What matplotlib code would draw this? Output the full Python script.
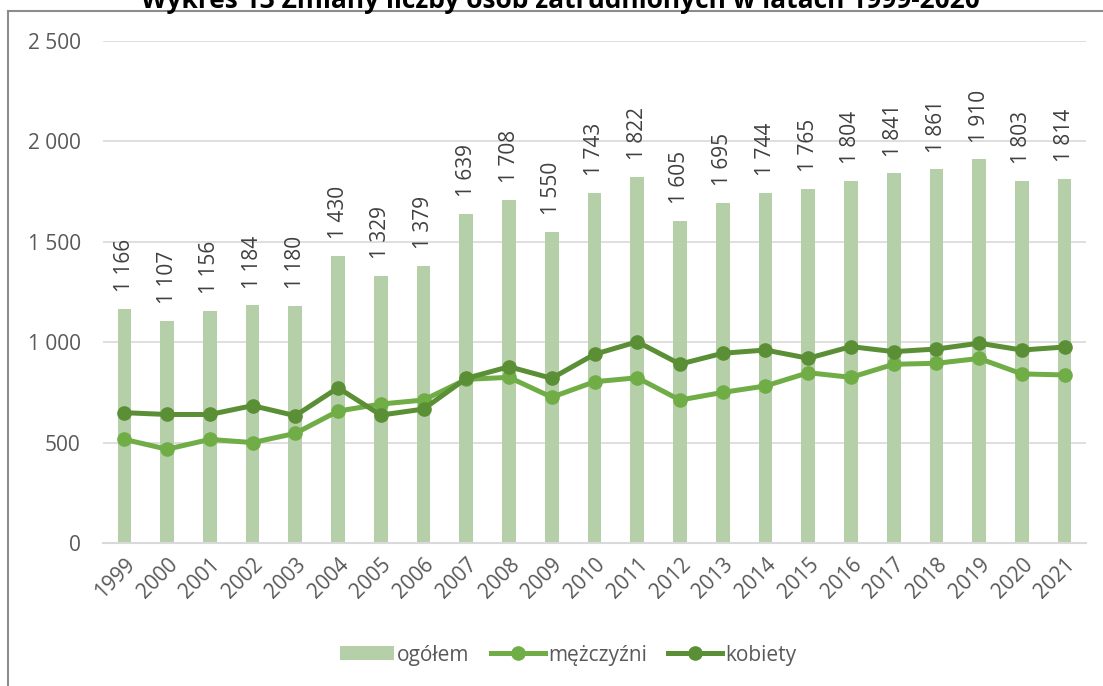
import numpy as np
import matplotlib.pyplot as plt
from matplotlib.lines import Line2D

plt.rcParams['font.family'] = ['Open Sans', 'DejaVu Sans']

lata = [str(r) for r in range(1999, 2022)]
ogolem = [1166, 1107, 1156, 1184, 1180, 1430, 1329, 1379, 1639, 1708, 1550, 1743,
          1822, 1605, 1695, 1744, 1765, 1804, 1841, 1861, 1910, 1803, 1814]
mezczyzni = [516, 467, 516, 500, 546, 657, 692, 712, 815, 825, 726, 803,
             823, 712, 750, 782, 848, 825, 890, 895, 919, 842, 837]
kobiety = [649, 640, 640, 684, 634, 773, 637, 667, 820, 878, 820, 940,
           1002, 891, 945, 961, 920, 978, 953, 966, 995, 961, 976]

c_bar = '#b5cfa8'
c_men = '#70ad47'
c_women = '#5b8f36'
c_txt = '#595959'
fs = 15

fig = plt.figure(figsize=(11.03, 6.86), dpi=100)
ax = fig.add_axes([103/1103, 1-543/686, (1086-103)/1103, (543-41)/686])

x = np.arange(len(lata))
b = ax.bar(x, ogolem, width=0.32, color=c_bar, zorder=2, label='ogółem')
l1, = ax.plot(x, mezczyzni, color=c_men, lw=3.6, marker='o', ms=9.5, zorder=3, label='mężczyźni')
l2, = ax.plot(x, kobiety, color=c_women, lw=3.6, marker='o', ms=9.5, zorder=4, label='kobiety')

for xi, v in zip(x, ogolem):
    ax.annotate(f'{v:,}'.replace(',', ' '), (xi, v), xytext=(0, 12), textcoords='offset points',
                rotation=90, ha='center', va='bottom', fontsize=fs, color='#404040')

ax.set_xlim(-0.5, len(lata) - 0.5)
ax.set_ylim(0, 2500)
ax.set_yticks(range(0, 2501, 500))
ax.set_yticklabels([f'{v:,}'.replace(',', ' ') for v in range(0, 2501, 500)])
ax.set_xticks(x)
ax.set_xticklabels(lata, rotation=45, ha='right', rotation_mode='anchor')
ax.tick_params(axis='y', length=0, pad=16, labelsize=fs, labelcolor=c_txt)
ax.tick_params(axis='x', length=0, pad=8, labelsize=fs, labelcolor=c_txt)
ax.grid(axis='y', color='#d9d9d9', lw=1.2, zorder=0)
ax.set_axisbelow(True)
for s in ['top', 'right', 'left']:
    ax.spines[s].set_visible(False)
ax.spines['bottom'].set_color('#d9d9d9')
ax.spines['bottom'].set_linewidth(1.5)

fig.legend([b, l1, l2], ['ogółem', 'mężczyźni', 'kobiety'], loc='center',
           bbox_to_anchor=(568/1103, 1-655/686), ncol=3, frameon=False,
           fontsize=fs, handlelength=2.6, handleheight=0.65, columnspacing=1.0,
           handletextpad=0.15, labelcolor=c_txt)

# ramka wykresu i uciety tytul
fig.add_artist(Line2D([8/1103, 8/1103], [0, 1-11/686], color='#8c8c8c', lw=1.5))
fig.add_artist(Line2D([8/1103, 1], [1-11/686, 1-11/686], color='#8c8c8c', lw=1.5))
fig.text(560/1103, 1-1/686, 'Wykres 13 Zmiany liczby osób zatrudnionych w latach 1999-2020',
         ha='center', va='center', fontsize=19, fontweight='bold', color='black')

plt.savefig('out.png', dpi=100)
